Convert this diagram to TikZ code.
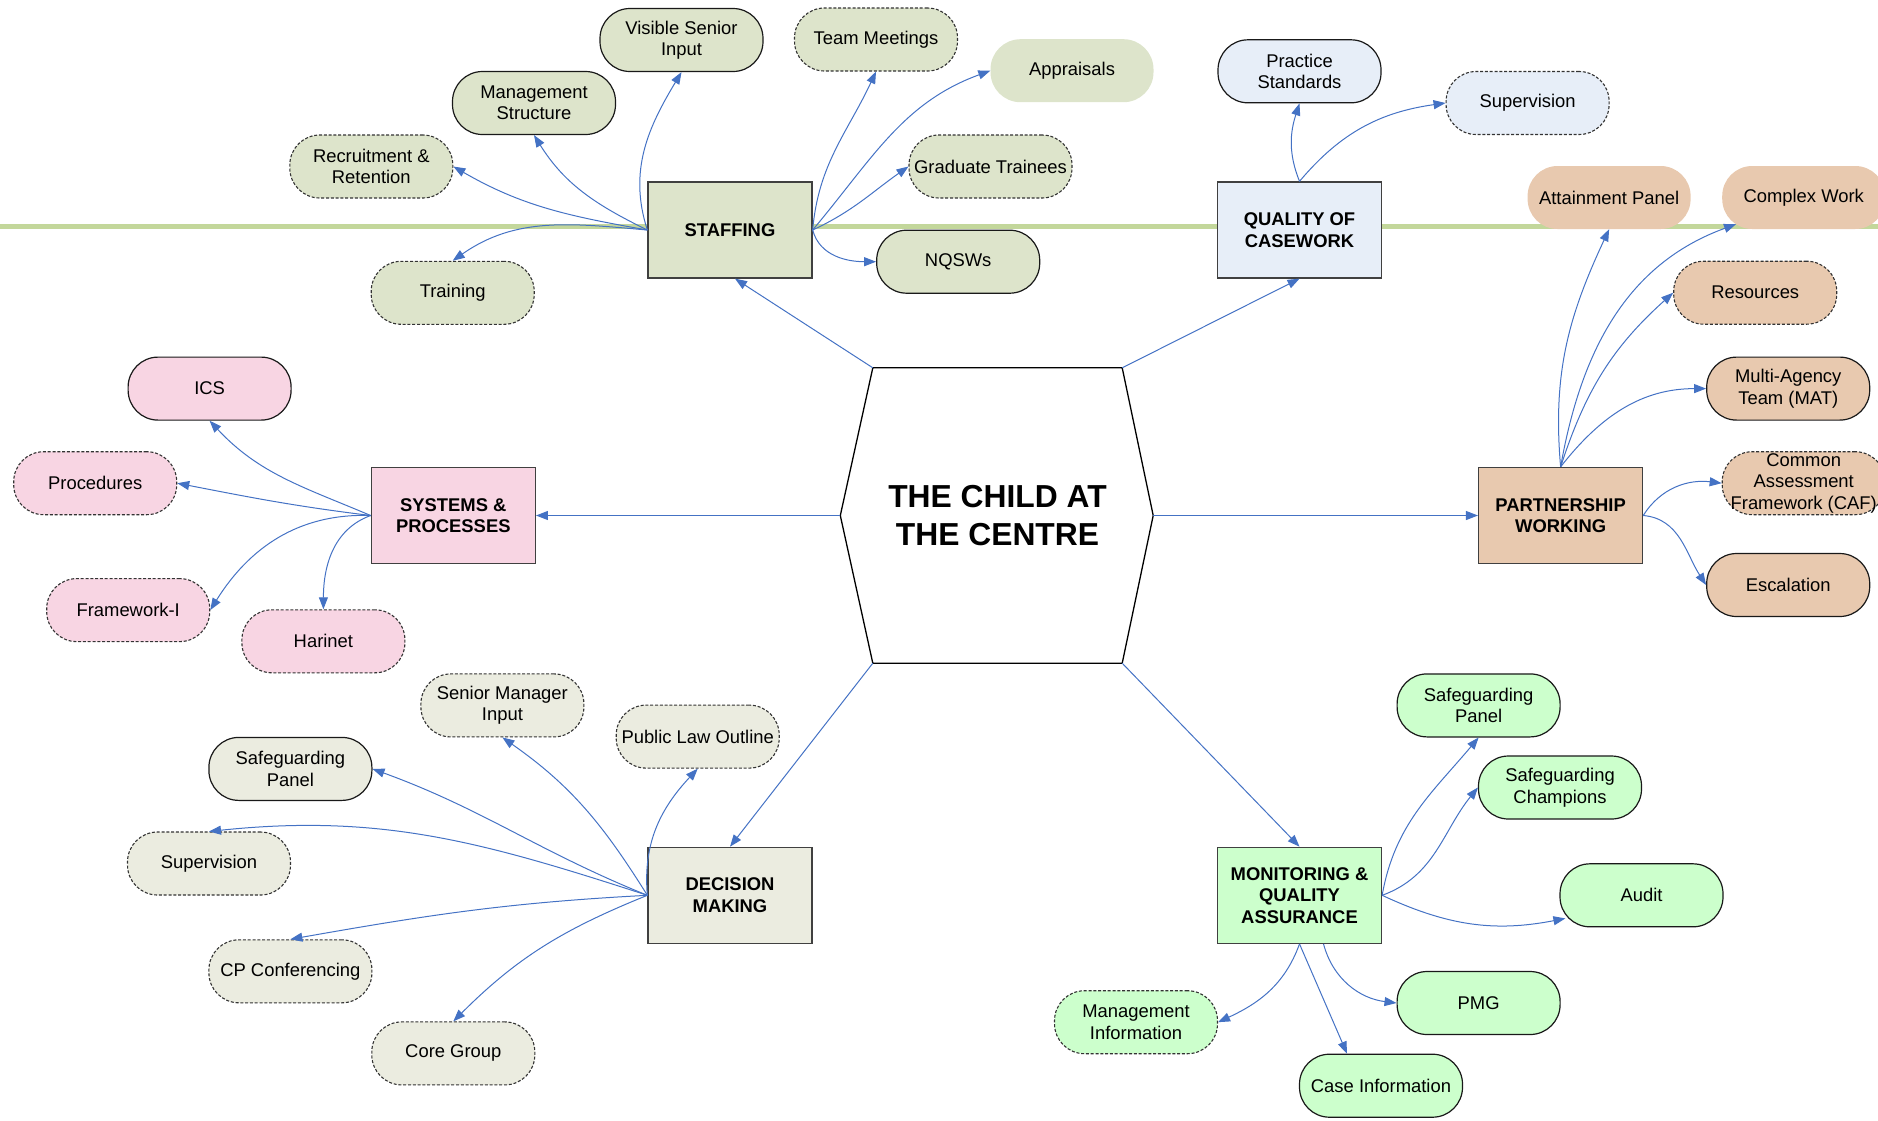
\documentclass[tikz,border=0pt]{standalone}
\usepackage{fontspec}
\setmainfont{Liberation Sans}
\usetikzlibrary{positioning, arrows.meta}
\definecolor{staffcol}{RGB}{221,228,203}
\definecolor{qualcol}{RGB}{231,238,248}
\definecolor{syscol}{RGB}{248,213,227}
\definecolor{partcol}{RGB}{232,201,175}
\definecolor{deccol}{RGB}{235,236,224}
\definecolor{moncol}{RGB}{204,255,204}
\definecolor{bandgreen}{RGB}{195,215,155}
\definecolor{linkblue}{RGB}{68,114,196}
\newcommand{\leaffont}{\fontsize{18.4}{21.5}\selectfont}
\newcommand{\topicfont}{\bfseries\fontsize{18.4}{21.5}\selectfont}

\begin{document}
\begin{tikzpicture}
    [
        node distance=20pt and 20pt, on grid,
        hub_node/.style={rectangle, minimum width=249pt, minimum height=295pt, align=center, font=\bfseries\fontsize{31.8}{38}\selectfont},
        topic_node/.style={rectangle, draw=black!75, line width=1.3pt, minimum width=164pt, minimum height=96pt, inner sep=0pt, align=center, font=\topicfont},
        leaf_node/.style={rectangle, rounded corners=30pt, minimum width=163pt, minimum height=63pt, inner sep=0pt, align=center, font=\leaffont},
        solid_leaf/.style={leaf_node, draw=black!90, line width=1.2pt},
        dashed_leaf/.style={leaf_node, draw=black!80, line width=1.1pt, dash pattern=on 3pt off 1.8pt},
        plain_leaf/.style={leaf_node, draw=none},
        link/.style={-{Triangle[length=12pt, width=9pt]}, line width=1pt, color=linkblue},
    ]
    \useasboundingbox (0pt,0pt) rectangle (1878pt,-1120pt);
    \draw[line width=5.5pt, color=bandgreen] (0pt,-226.4pt) -- (1878pt,-226.4pt);
    % centre
    \node[hub_node] (hub) at (997.5pt,-515.5pt) {THE CHILD AT\\THE CENTRE};
    \coordinate (hubL) at ([xshift=-32.5pt]hub.west);
    \coordinate (hubR) at ([xshift=31pt]hub.east);
    \draw[line width=1.3pt] (hub.north west) -- (hub.north east) -- (hubR) -- (hub.south east) -- (hub.south west) -- (hubL) -- cycle;
    % topics
    \node[topic_node, fill=staffcol] (staff) [above left = 285.5pt and 267.5pt of hub] {STAFFING};
    \node[topic_node, fill=qualcol] (qual) [above right = 285.5pt and 302pt of hub] {QUALITY OF\\CASEWORK};
    \node[topic_node, fill=syscol] (sys) [left = 544.2pt of hub] {SYSTEMS \&\\PROCESSES};
    \node[topic_node, fill=partcol] (part) [right = 563.1pt of hub] {PARTNERSHIP\\WORKING};
    \node[topic_node, fill=deccol] (dec) [below left = 379.8pt and 267.5pt of hub] {DECISION\\MAKING};
    \node[topic_node, fill=moncol] (mon) [below right = 379.8pt and 302pt of hub] {MONITORING \&\\QUALITY\\ASSURANCE};
    % staffing leaves
    \node[solid_leaf, fill=staffcol] (vis) [above left = 190pt and 48.5pt of staff] {Visible Senior\\Input};
    \node[dashed_leaf, fill=staffcol] (team) [above right = 190.5pt and 146pt of staff] {Team Meetings};
    \node[plain_leaf, fill=staffcol] (appr) [above right = 159.3pt and 342pt of staff] {Appraisals};
    \node[solid_leaf, fill=staffcol] (mgmt) [above left = 127pt and 196pt of staff] {Management\\Structure};
    \node[dashed_leaf, fill=staffcol] (recr) [above left = 63.5pt and 358.7pt of staff] {Recruitment \&\\Retention};
    \node[dashed_leaf, fill=staffcol] (grad) [above right = 63.5pt and 260.5pt of staff] {Graduate Trainees};
    \node[dashed_leaf, fill=staffcol] (train) [below left = 62.8pt and 277.3pt of staff] {Training};
    \node[solid_leaf, fill=staffcol] (nqsw) [below right = 31.7pt and 228.2pt of staff] {NQSWs};
    % quality leaves
    \node[solid_leaf, fill=qualcol] (prac) [above = 158.7pt of qual] {Practice\\Standards};
    \node[dashed_leaf, fill=qualcol] (qsup) [above right = 127pt and 228.1pt of qual] {Supervision};
    % partnership leaves
    \node[plain_leaf, fill=partcol] (att) [above right = 318pt and 48.5pt of part] {Attainment Panel};
    \node[plain_leaf, fill=partcol] (cplx) [above right = 318pt and 243.1pt of part] {Complex Work};
    \node[dashed_leaf, fill=partcol] (res) [above right = 222.8pt and 194.6pt of part] {Resources};
    \node[solid_leaf, fill=partcol] (mat) [above right = 126.9pt and 227.6pt of part] {Multi-Agency\\Team (MAT)};
    \node[dashed_leaf, fill=partcol] (caf) [above right = 32.3pt and 243.1pt of part] {Common\\Assessment\\Framework (CAF)};
    \node[solid_leaf, fill=partcol] (esc) [below right = 69.5pt and 227.6pt of part] {Escalation};
    % systems leaves
    \node[solid_leaf, fill=syscol] (ics) [above left = 126.9pt and 243.7pt of sys] {ICS};
    \node[dashed_leaf, fill=syscol] (proc) [above left = 32.3pt and 358.1pt of sys] {Procedures};
    \node[dashed_leaf, fill=syscol] (fwk) [below left = 94.6pt and 325.1pt of sys] {Framework-I};
    \node[dashed_leaf, fill=syscol] (hari) [below left = 125.8pt and 129.9pt of sys] {Harinet};
    % decision leaves
    \node[dashed_leaf, fill=deccol] (smi) [above left = 189.9pt and 227.6pt of dec] {Senior Manager\\Input};
    \node[dashed_leaf, fill=deccol] (plo) [above left = 158.7pt and 32.3pt of dec] {Public Law Outline};
    \node[solid_leaf, fill=deccol] (dsp) [above left = 126.4pt and 439.6pt of dec] {Safeguarding\\Panel};
    \node[dashed_leaf, fill=deccol] (dsup) [above left = 31.8pt and 521pt of dec] {Supervision};
    \node[dashed_leaf, fill=deccol] (cpc) [below left = 76pt and 439.6pt of dec] {CP Conferencing};
    \node[dashed_leaf, fill=deccol] (core) [below left = 158.1pt and 276.7pt of dec] {Core Group};
    % monitoring leaves
    \node[solid_leaf, fill=moncol] (msp) [above right = 189.9pt and 179.1pt of mon] {Safeguarding\\Panel};
    \node[solid_leaf, fill=moncol] (champ) [above right = 107.8pt and 260.5pt of mon] {Safeguarding\\Champions};
    \node[solid_leaf, fill=moncol] (audit) [right = 342pt of mon] {Audit};
    \node[solid_leaf, fill=moncol] (pmg) [below right = 107.7pt and 179.1pt of mon] {PMG};
    \node[dashed_leaf, fill=moncol] (minfo) [below left = 126.9pt and 163.5pt of mon] {Management\\Information};
    \node[solid_leaf, fill=moncol] (cinfo) [below right = 190.4pt and 81.5pt of mon] {Case Information};
    % hub to topics
    \draw[link] (hub.north west) -- ([xshift=5pt]staff.south);
    \draw[link] (hub.north east) -- (qual.south);
    \draw[link] (hubL) -- (sys.east);
    \draw[link] (hubR) -- (part.west);
    \draw[link] (hub.south west) -- (dec.north);
    \draw[link] (hub.south east) -- (mon.north);
    % staffing
    \draw[link] (staff.west) to[out=175, in=35] (train.north);
    \draw[link] (staff.west) to[out=170, in=-30] (recr.east);
    \draw[link] (staff.west) to[out=154, in=-58] (mgmt.south);
    \draw[link] (staff.west) to[out=108, in=-121] (vis.south);
    \draw[link] (staff.east) to[out=85, in=-115] (team.south);
    \draw[link] (staff.east) to[out=50, in=-160] (appr.west);
    \draw[link] (staff.east) to[out=25, in=-145] (grad.west);
    \draw[link] (staff.east) to[out=-75, in=180] (nqsw.west);
    % quality
    \draw[link] (qual.north) to[out=112, in=-108] (prac.south);
    \draw[link] (qual.north) to[out=50, in=-172] (qsup.west);
    % partnership
    \draw[link] (part.north) to[out=95, in=-115] (att.south);
    \draw[link] (part.north) to[out=80, in=-160] ([xshift=14pt, yshift=5pt]cplx.south west);
    \draw[link] (part.north) to[out=72, in=-138] (res.west);
    \draw[link] (part.north) to[out=52, in=180] (mat.west);
    \draw[link] (part.east) to[out=58, in=173] (caf.west);
    \draw[link] (part.east) to[out=-5, in=123] (esc.west);
    % systems
    \draw[link] (sys.west) to[out=157, in=-47] (ics.south);
    \draw[link] (sys.west) to[out=173, in=-11] (proc.east);
    \draw[link] (sys.west) to[out=178, in=58] (fwk.east);
    \draw[link] (sys.west) to[out=200, in=90] (hari.north);
    % decision
    \draw[link] (dec.west) to[out=122, in=-35] (smi.south);
    \draw[link] (dec.west) to[out=95, in=-133] (plo.south);
    \draw[link] (dec.west) to[out=158, in=-20] (dsp.east);
    \draw[link] (dec.west) to[out=162, in=6] (dsup.north);
    \draw[link] (dec.west) to[out=183, in=10] (cpc.north);
    \draw[link] (dec.west) to[out=202, in=45] (core.north);
    % monitoring
    \draw[link] (mon.east) to[out=80, in=-130] (msp.south);
    \draw[link] (mon.east) to[out=20, in=-129] (champ.west);
    \draw[link] (mon.east) to[out=-25, in=-169] ([xshift=6pt, yshift=9pt]audit.south west);
    \draw[link] (mon.south) to[out=-110, in=25] (minfo.east);
    \draw[link] (mon.south) -- ([xshift=-34pt]cinfo.north);
    \draw[link] ([xshift=24pt]mon.south) to[out=-75, in=173] (pmg.west);
\end{tikzpicture}
\end{document}
